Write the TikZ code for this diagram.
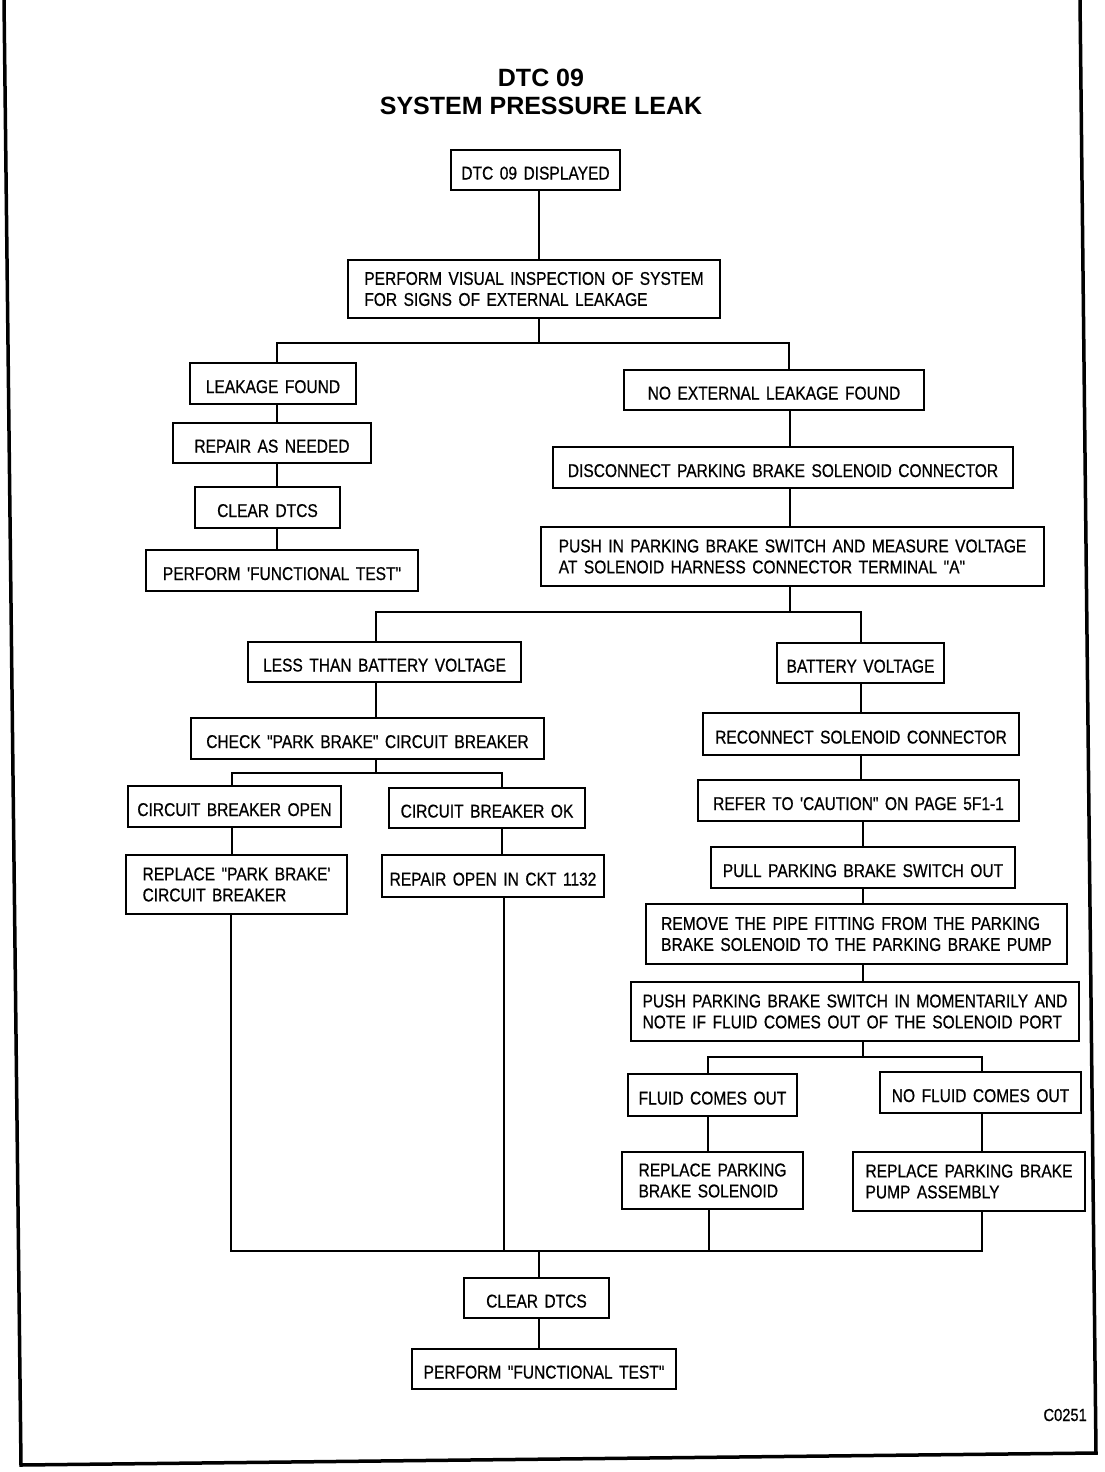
\documentclass[tikz,border=0pt]{standalone}
\usepackage{fontspec}
\newfontfamily\boxfont[FakeStretch=0.84,WordSpace=1.5,FakeBold=0.6]{Liberation Sans}
\newfontfamily\ttlfont{Liberation Sans}
\tikzset{
  box/.style={draw, line width=2.2pt, inner sep=0pt, align=center,
    font=\boxfont\fontsize{18.5}{21}\selectfont},
  bx/.style n args={2}{box, minimum width=#1, minimum height=#2, text height=19pt, text depth=0pt},
  bxx/.style n args={2}{box, minimum width=#1, minimum height=#2, align=left, yshift=-2pt},
  wire/.style={line width=2pt},
  ttl/.style={font=\ttlfont\bfseries\fontsize{25}{28}\selectfont, inner sep=0pt, anchor=base},
}
\begin{document}
\begin{tikzpicture}[x=1pt,y=-1pt]
\useasboundingbox (0,0) rectangle (1104,1472);
% frame
\draw[line width=3.5pt] (4,0) -- (21,1465) -- (1096,1453) -- (1080,0);
% title
\node[ttl] (t1) at (541,86) {DTC 09};
\node[ttl] (t2) at (541,114) {SYSTEM PRESSURE LEAK};
% boxes
\node[bx={169pt}{40pt}] (n1) at (535.5,170) {DTC 09 DISPLAYED};
\node[bxx={372pt}{58pt}, yshift=2pt] (n2) at (534,289) {PERFORM VISUAL INSPECTION OF SYSTEM\\FOR SIGNS OF EXTERNAL LEAKAGE};
\node[bx={166pt}{41pt}] (n3) at (273,383.5) {LEAKAGE FOUND};
\node[bx={198pt}{40pt}] (n4) at (272,443) {REPAIR AS NEEDED};
\node[bx={145pt}{41pt}] (n5) at (267.5,507.5) {CLEAR DTCS};
\node[bx={272pt}{41pt}] (n6) at (282,570.5) {PERFORM 'FUNCTIONAL TEST"};
\node[bx={300pt}{40pt}] (n7) at (774,390) {NO EXTERNAL LEAKAGE FOUND};
\node[bx={460pt}{41pt}] (n8) at (783,467.5) {DISCONNECT PARKING BRAKE SOLENOID CONNECTOR};
\node[bxx={503pt}{59pt}, yshift=2pt] (n9) at (792.5,556.5) {PUSH IN PARKING BRAKE SWITCH AND MEASURE VOLTAGE\\AT SOLENOID HARNESS CONNECTOR TERMINAL "A"};
\node[bx={273pt}{40pt}] (n10) at (384.5,662) {LESS THAN BATTERY VOLTAGE};
\node[bx={167pt}{40pt}] (n11) at (860.5,663) {BATTERY VOLTAGE};
\node[bx={353pt}{41pt}] (n12) at (367.5,738.5) {CHECK "PARK BRAKE" CIRCUIT BREAKER};
\node[bx={213pt}{41pt}] (n13) at (234.5,806.5) {CIRCUIT BREAKER OPEN};
\node[bx={196pt}{40pt}] (n14) at (487,808) {CIRCUIT BREAKER OK};
\node[bxx={221pt}{59pt}, yshift=2pt] (n15) at (236.5,884.5) {REPLACE "PARK BRAKE'\\CIRCUIT BREAKER};
\node[bx={222pt}{42pt}] (n16) at (493,876) {REPAIR OPEN IN CKT 1132};
\node[bx={316pt}{42pt}] (n17) at (861,734) {RECONNECT SOLENOID CONNECTOR};
\node[bx={321pt}{41pt}] (n18) at (858.5,800.5) {REFER TO 'CAUTION" ON PAGE 5F1-1};
\node[bx={304pt}{41pt}] (n19) at (863,867.5) {PULL PARKING BRAKE SWITCH OUT};
\node[bxx={421pt}{60pt}, yshift=2pt] (n20) at (856.5,934) {REMOVE THE PIPE FITTING FROM THE PARKING\\BRAKE SOLENOID TO THE PARKING BRAKE PUMP};
\node[bxx={448pt}{59pt}, yshift=2pt] (n21) at (855,1011.5) {PUSH PARKING BRAKE SWITCH IN MOMENTARILY AND\\NOTE IF FLUID COMES OUT OF THE SOLENOID PORT};
\node[bx={169pt}{42pt}] (n22) at (712.5,1095) {FLUID COMES OUT};
\node[bx={201pt}{41pt}] (n23) at (980.5,1092.5) {NO FLUID COMES OUT};
\node[bxx={181pt}{57pt}, yshift=2pt] (n24) at (712.5,1180.5) {REPLACE PARKING\\BRAKE SOLENOID};
\node[bxx={232pt}{59pt}, yshift=2pt] (n25) at (969,1181.5) {REPLACE PARKING BRAKE\\PUMP ASSEMBLY};
\node[bx={145pt}{40pt}] (n26) at (536.5,1298) {CLEAR DTCS};
\node[bx={264pt}{40pt}] (n27) at (544,1369) {PERFORM "FUNCTIONAL TEST"};
\node[font=\boxfont\fontsize{17.5}{20}\selectfont, inner sep=0pt, anchor=base east] (code) at (1087,1421) {C0251};
% junction coordinates
\coordinate (b1) at (539,343);
\coordinate (b1L) at (277,343);
\coordinate (b1R) at (789,343);
\coordinate (b2) at (790,612);
\coordinate (b2L) at (376,612);
\coordinate (b2R) at (861,612);
\coordinate (b3) at (376,773);
\coordinate (b3L) at (232,773);
\coordinate (b3R) at (502,773);
\coordinate (b4) at (863,1057);
\coordinate (b4L) at (708,1057);
\coordinate (b4R) at (982,1057);
\coordinate (mL) at (231,1251);
\coordinate (m2) at (504,1251);
\coordinate (mC) at (539,1251);
\coordinate (m3) at (709,1251);
\coordinate (mR) at (982,1251);
% connectors
\draw[wire] (n1.south -| b1) -- (n2.north -| b1);
\draw[wire] (n2.south -| b1) -- (b1);
\draw[wire] (n3.north -| b1L) -- (b1L) -- (b1R) -- (n7.north -| b1R);
\draw[wire] (n3.south -| b1L) -- (n4.north -| b1L);
\draw[wire] (n4.south -| b1L) -- (n5.north -| b1L);
\draw[wire] (n5.south -| b1L) -- (n6.north -| b1L);
\draw[wire] (n7.south -| b2) -- (n8.north -| b2);
\draw[wire] (n8.south -| b2) -- (n9.north -| b2);
\draw[wire] (n9.south -| b2) -- (b2);
\draw[wire] (n10.north -| b2L) -- (b2L) -- (b2R) -- (n11.north -| b2R);
\draw[wire] (n10.south -| b3) -- (n12.north -| b3);
\draw[wire] (n12.south -| b3) -- (b3);
\draw[wire] (n13.north -| b3L) -- (b3L) -- (b3R) -- (n14.north -| b3R);
\draw[wire] (n13.south -| b3L) -- (n15.north -| b3L);
\draw[wire] (n14.south -| b3R) -- (n16.north -| b3R);
\draw[wire] (n11.south -| b2R) -- (n17.north -| b2R);
\draw[wire] (n17.south -| b2R) -- (n18.north -| b2R);
\draw[wire] (n18.south -| b4) -- (n19.north -| b4);
\draw[wire] (n19.south -| b4) -- (n20.north -| b4);
\draw[wire] (n20.south -| b4) -- (n21.north -| b4);
\draw[wire] (n21.south -| b4) -- (b4);
\draw[wire] (n22.north -| b4L) -- (b4L) -- (b4R) -- (n23.north -| b4R);
\draw[wire] (n22.south -| b4L) -- (n24.north -| b4L);
\draw[wire] (n23.south -| b4R) -- (n25.north -| b4R);
\draw[wire] (n15.south -| mL) -- (mL) -- (mR) -- (n25.south -| mR);
\draw[wire] (n16.south -| m2) -- (m2);
\draw[wire] (n24.south -| m3) -- (m3);
\draw[wire] (mC) -- (n26.north -| mC);
\draw[wire] (n26.south -| mC) -- (n27.north -| mC);
\end{tikzpicture}
\end{document}
